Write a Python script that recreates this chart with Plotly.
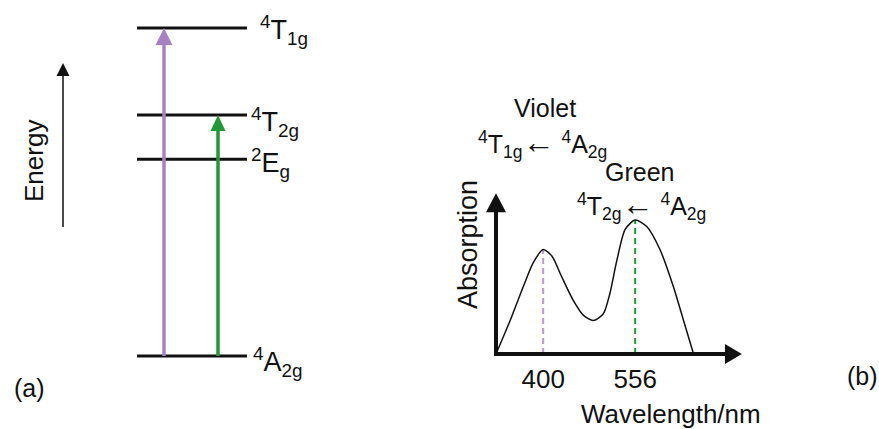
import plotly.graph_objects as go

# ---------------- data ----------------
level_names = ["<sup>4</sup>A<sub>2g</sub>", "<sup>2</sup>E<sub>g</sub>",
               "<sup>4</sup>T<sub>2g</sub>", "<sup>4</sup>T<sub>1g</sub>"]
level_energy = [0.0, 14.7, 18.0, 24.5]          # schematic energies (10^3 cm^-1)

transition_from = [0, 0]
transition_to = [3, 2]
transition_colors = ["#a682c2", "#1f9a35"]

wavelength = [320, 344, 366, 383, 400, 415, 431, 451, 468, 485,
              502, 513, 525, 539, 556, 576, 598, 621, 638, 655]
absorption = [0.0, 0.25, 0.50, 0.68, 0.78, 0.73, 0.58, 0.40, 0.29, 0.25,
              0.30, 0.45, 0.70, 0.93, 1.00, 0.95, 0.78, 0.50, 0.25, 0.0]

peak_wavelength = [400, 556]
peak_absorption = [0.78, 1.00]
peak_colors = ["#b89bd2", "#1f9a35"]
peak_titles = ["Violet", "Green"]
ARROW = '<span style="font-size:32px">\u2190</span>'
peak_labels = ["<sup>4</sup>T<sub>1g</sub>" + ARROW + " <sup>4</sup>A<sub>2g</sub>",
               "<sup>4</sup>T<sub>2g</sub>" + ARROW + " <sup>4</sup>A<sub>2g</sub>"]
tick_labels = ["400", "556"]

axis_x_end = 737      # nm, tip of wavelength axis arrow
axis_y_end = 1.20     # tip of absorption axis arrow

# ---------------- layout geometry ----------------
W, H = 879, 429
FONT = "Liberation Sans, Arial, sans-serif"
INK = "#111111"


def xp(px):
    return px / W


def yp(py):
    return 1 - py / H


# left panel: x in pixel-like units, y in energy units
L_XDOM = [0, 0.4]
L_XR = [0, 0.4 * W]
E_PPU = 13.39
E_BASE_PY = 356
L_YR = [(E_BASE_PY - H) / E_PPU, E_BASE_PY / E_PPU]

# right panel
R_XPPU = 92 / 156          # px per nm
R_YPPU = 134               # px per absorption unit
R_ORIGIN_PX = 496
R_BASE_PY = 354
R_DOM_PX = [480, 770]
R_DOM_PY = [372, 180]
x0 = wavelength[0]
R_XR = [x0 - (R_ORIGIN_PX - R_DOM_PX[0]) / R_XPPU, x0 + (R_DOM_PX[1] - R_ORIGIN_PX) / R_XPPU]
R_YR = [(R_BASE_PY - R_DOM_PY[0]) / R_YPPU, (R_BASE_PY - R_DOM_PY[1]) / R_YPPU]


def head(tx, ty, direction, length, width, xppu, yppu, color, xa, ya):
    if direction == "up":
        bx = [tx - width / 2 / xppu, tx + width / 2 / xppu, tx, tx - width / 2 / xppu]
        by = [ty - length / yppu, ty - length / yppu, ty, ty - length / yppu]
    else:
        bx = [tx - length / xppu, tx - length / xppu, tx, tx - length / xppu]
        by = [ty - width / 2 / yppu, ty + width / 2 / yppu, ty, ty - width / 2 / yppu]
    return go.Scatter(x=bx, y=by, mode="lines", fill="toself", fillcolor=color,
                      line=dict(width=0, color=color), hoverinfo="skip",
                      showlegend=False, xaxis=xa, yaxis=ya)


fig = go.Figure()

# ----- left: energy levels -----
LEVEL_X = [137, 247]
for e in level_energy:
    fig.add_trace(go.Scatter(x=LEVEL_X, y=[e, e], mode="lines",
                             line=dict(color=INK, width=3), showlegend=False,
                             hoverinfo="skip", xaxis="x", yaxis="y"))

TRANS_X = [164, 218]
HEAD_DIM = [(17, 17), (16, 15)]
for i, (a, b) in enumerate(zip(transition_from, transition_to)):
    x = TRANS_X[i]
    ln, wd = HEAD_DIM[i]
    e0, e1 = level_energy[a], level_energy[b]
    fig.add_trace(go.Scatter(x=[x, x], y=[e0, e1 - (ln - 2) / E_PPU], mode="lines",
                             line=dict(color=transition_colors[i], width=3.5),
                             showlegend=False, hoverinfo="skip", xaxis="x", yaxis="y"))
    fig.add_trace(head(x, e1, "up", ln, wd, 1, E_PPU, transition_colors[i], "x", "y"))

# energy axis arrow
EN_X = 63
en_lo = (E_BASE_PY - 227) / E_PPU
en_hi = (E_BASE_PY - 63) / E_PPU
fig.add_trace(go.Scatter(x=[EN_X, EN_X], y=[en_lo, en_hi - 10 / E_PPU], mode="lines",
                         line=dict(color="#4a4a4a", width=2), showlegend=False,
                         hoverinfo="skip", xaxis="x", yaxis="y"))
fig.add_trace(head(EN_X, en_hi, "up", 13, 13, 1, E_PPU, "#111111", "x", "y"))

# ----- right: absorption spectrum -----
for i, w in enumerate(peak_wavelength):
    fig.add_trace(go.Scatter(x=[w, w], y=[0, peak_absorption[i]], mode="lines",
                             line=dict(color=peak_colors[i], width=2, dash="6px,4px"),
                             showlegend=False, hoverinfo="skip", xaxis="x2", yaxis="y2"))

fig.add_trace(go.Scatter(x=wavelength, y=absorption, mode="lines",
                         line=dict(color=INK, width=1.5, shape="spline", smoothing=0.7),
                         showlegend=False, hoverinfo="skip", xaxis="x2", yaxis="y2"))

# axes arrows
fig.add_trace(go.Scatter(x=[x0, x0, axis_x_end - 15 / R_XPPU],
                         y=[axis_y_end - 17 / R_YPPU, 0, 0], mode="lines",
                         line=dict(color=INK, width=4), showlegend=False,
                         hoverinfo="skip", xaxis="x2", yaxis="y2"))
fig.add_trace(head(x0, axis_y_end, "up", 19, 20, R_XPPU, R_YPPU, INK, "x2", "y2"))
fig.add_trace(head(axis_x_end, 0, "right", 17, 20, R_XPPU, R_YPPU, INK, "x2", "y2"))

# ----- annotations -----
ann = []
LABEL_POS = [(251, 6), (249, 4), (249, 7), (258, 2)]   # (left px, vertical shift px)
for i, name in enumerate(level_names):
    lx, dy = LABEL_POS[i]
    ann.append(dict(x=lx, y=level_energy[i], xref="x", yref="y", text=name,
                    xanchor="left", yanchor="middle", yshift=-dy, showarrow=False,
                    font=dict(size=27, family=FONT, color=INK)))

ann.append(dict(x=xp(34), y=yp(161), xref="paper", yref="paper", text="Energy",
                textangle=-90, showarrow=False, xanchor="center", yanchor="middle",
                font=dict(size=26, family=FONT, color=INK)))
ann.append(dict(x=xp(29), y=yp(388), xref="paper", yref="paper", text="(a)",
                showarrow=False, xanchor="center", yanchor="middle",
                font=dict(size=25, family=FONT, color=INK)))
ann.append(dict(x=xp(862), y=yp(376), xref="paper", yref="paper", text="(b)",
                showarrow=False, xanchor="center", yanchor="middle",
                font=dict(size=25, family=FONT, color=INK)))
ann.append(dict(x=xp(468), y=yp(245), xref="paper", yref="paper", text="Absorption",
                textangle=-90, showarrow=False, xanchor="center", yanchor="middle",
                font=dict(size=27, family=FONT, color=INK)))
ann.append(dict(x=xp(671), y=yp(414), xref="paper", yref="paper", text="Wavelength/nm",
                showarrow=False, xanchor="center", yanchor="middle",
                font=dict(size=26, family=FONT, color=INK)))

TITLE_PY = [108, 172]
LABEL_PY = [143, 205]
TITLE_DX = [2, 4]
LABEL_DX = [-1, 6]
for i, w in enumerate(peak_wavelength):
    ann.append(dict(x=w, y=yp(TITLE_PY[i]), xref="x2", yref="paper", text=peak_titles[i],
                    xshift=TITLE_DX[i], showarrow=False, xanchor="center", yanchor="middle",
                    font=dict(size=25, family=FONT, color=INK)))
    ann.append(dict(x=w, y=yp(LABEL_PY[i]), xref="x2", yref="paper", text=peak_labels[i],
                    xshift=LABEL_DX[i], showarrow=False, xanchor="center", yanchor="middle",
                    font=dict(size=25, family=FONT, color=INK)))

hidden = dict(visible=True, showgrid=False, zeroline=False, showline=False,
              showticklabels=False, ticks="", fixedrange=True)

fig.update_layout(
    width=W, height=H,
    margin=dict(l=0, r=0, t=0, b=0),
    paper_bgcolor="white", plot_bgcolor="rgba(0,0,0,0)",
    showlegend=False,
    xaxis=dict(hidden, domain=L_XDOM, range=L_XR),
    yaxis=dict(hidden, domain=[0, 1], range=L_YR),
    xaxis2=dict(showgrid=False, zeroline=False, showline=False, ticks="",
                domain=[xp(R_DOM_PX[0]), xp(R_DOM_PX[1])], range=R_XR,
                tickvals=peak_wavelength, ticktext=tick_labels, showticklabels=True,
                ticklabelstandoff=-11, anchor="y2", fixedrange=True,
                tickfont=dict(size=26, family=FONT, color=INK)),
    yaxis2=dict(hidden, domain=[yp(R_DOM_PY[0]), yp(R_DOM_PY[1])], range=R_YR,
                anchor="x2"),
    annotations=ann,
)

fig.write_html("out.html", config={"displayModeBar": False, "staticPlot": True},
               post_script="document.body.style.margin='0px';document.body.style.overflow='hidden';")
